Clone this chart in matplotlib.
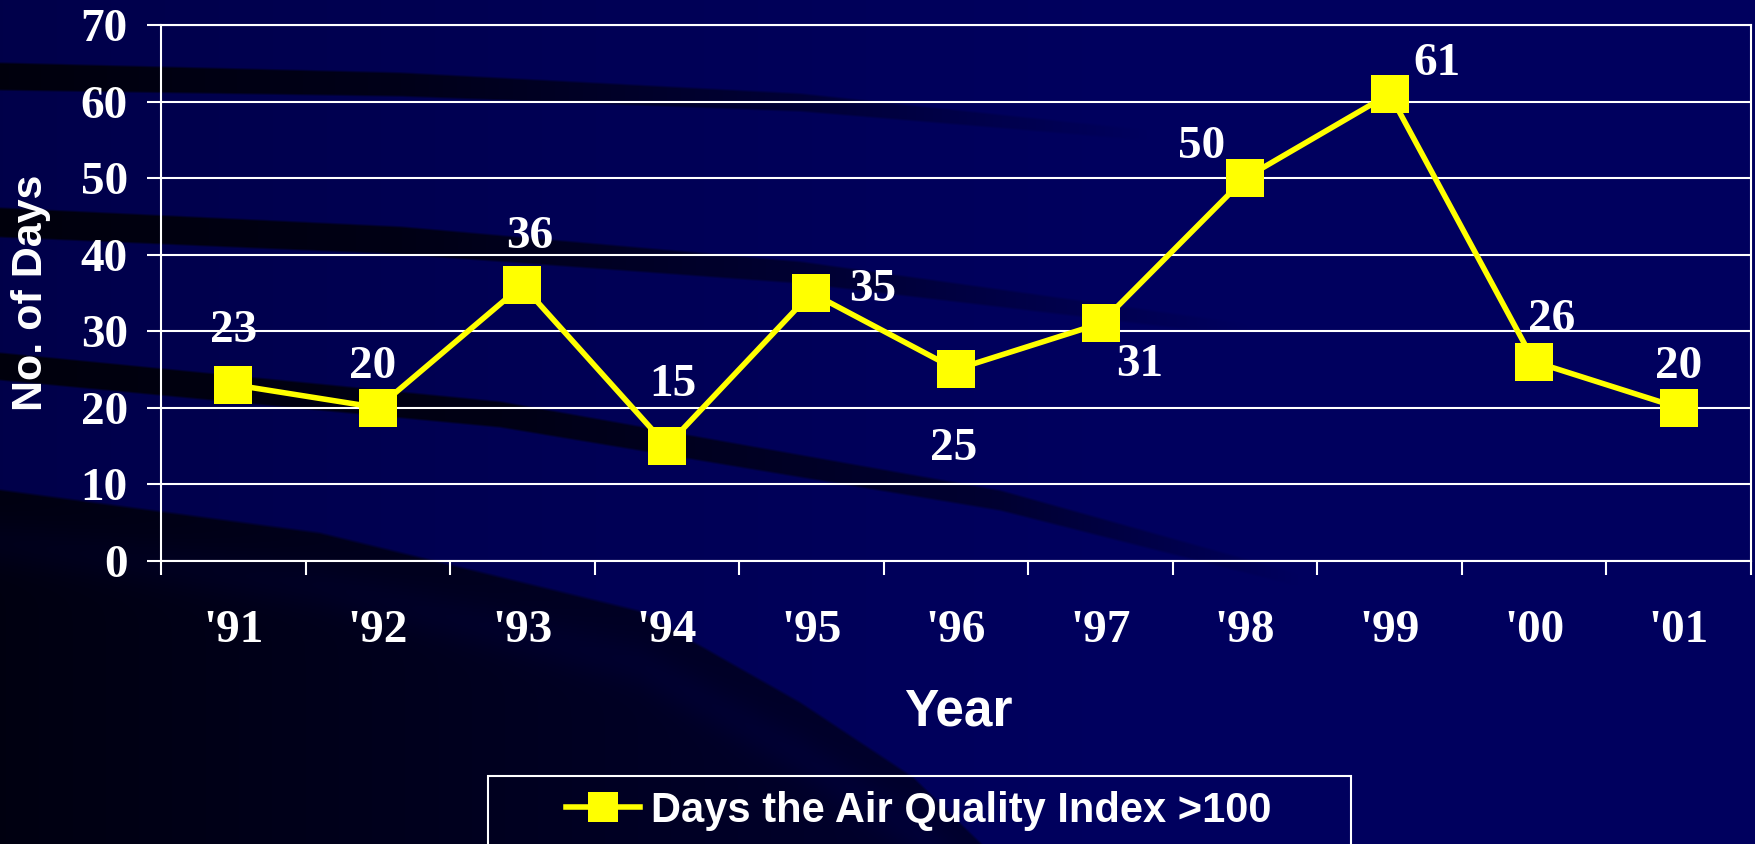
import numpy as np
import matplotlib
matplotlib.use('Agg')
import matplotlib.pyplot as plt
from matplotlib.patches import Rectangle

# data
years = ["'91", "'92", "'93", "'94", "'95", "'96", "'97", "'98", "'99", "'00", "'01"]
days = [23, 20, 36, 15, 35, 25, 31, 50, 61, 26, 20]
series_name = 'Days the Air Quality Index >100'
yticks = [0, 10, 20, 30, 40, 50, 60, 70]

# where each value label sits relative to its point (points, baseline)
label_offsets = [(0, 30.7), (-3.6, 21.3), (5, 27), (4.3, 36), (44, -5.8), (-1.4, -65.2),
                 (28, -37.8), (-31, 14.2), (34, 13.9), (12.6, 22), (0, 21.3)]

W, H, DPI = 1756, 844, 100
navy = np.array([0.0, 0.0, 0.37])
dark = np.array([0.0, 0.0, 0.05])
serif = 'Liberation Serif'
sans = 'Liberation Sans'

fig = plt.figure(figsize=(W / DPI, H / DPI), dpi=DPI, facecolor=navy)

# background swooshes (slide decoration)
xx, yy = np.meshgrid(np.arange(W), np.arange(H))
xs = np.arange(W)
d = np.zeros((H, W))
bands = [
    ([0, 400, 800, 1150], [76, 84, 102, 135], [14, 12, 9, 5], [1.0, 0.85, 0.5, 0.0]),
    ([0, 400, 800, 1250], [222, 240, 272, 330], [15, 14, 11, 6], [1.0, 0.9, 0.55, 0.0]),
    ([0, 500, 1000, 1300], [366, 414, 500, 580], [14, 13, 10, 6], [1.0, 0.9, 0.55, 0.0]),
]
for bx, by, bw, bs in bands:
    yc = np.interp(xs, bx, by)[None, :]
    hw = np.interp(xs, bx, bw)[None, :]
    st = np.interp(xs, bx, bs)[None, :]
    edge = np.clip((hw - np.abs(yy - yc)) / 3.0 + 0.5, 0, 1)
    d = np.maximum(d, st * edge)
top_edge = np.interp(xs, [0, 319, 638, 800, 913, 1000], [487, 530, 608, 700, 775, 860])[None, :]
inside = np.clip((yy - top_edge) / 4.0, 0, 1)
strength = 0.95 - 0.35 * np.clip(xx / 950.0, 0, 1)
sub = 0.12 * np.exp(-((yy - top_edge - 55) / 25.0) ** 2)
d = np.maximum(d, inside * (strength - sub))
d = np.maximum(d, 0.25 * np.clip(1 - xx / 1100.0, 0, 1))
img = navy[None, None, :] * (1 - d[..., None]) + dark[None, None, :] * d[..., None]

bg = fig.add_axes([0, 0, 1, 1], zorder=-5)
bg.imshow(img, extent=(0, W, H, 0), aspect='auto', interpolation='bilinear')
bg.set_xlim(0, W)
bg.set_ylim(H, 0)
bg.axis('off')

# plot area (pixel box converted to figure fractions)
ax = fig.add_axes([161 / W, (H - 560.7) / H, (1751 - 161) / W, (560.7 - 25) / H])
ax.set_facecolor('none')
x = np.arange(len(years))
line, = ax.plot(x, days, color='#FFFF00', lw=4, marker='s', markersize=28,
                markeredgewidth=0, label=series_name, zorder=5, clip_on=False)

for xi, v, (dx, dy) in zip(x, days, label_offsets):
    ax.annotate(str(v), (xi, v), xytext=(dx, dy), textcoords='offset points',
                ha='center', va='baseline', color='white', fontsize=34,
                fontweight='bold', family=serif, zorder=6)

ax.set_xlim(-0.5, len(years) - 0.5)
ax.set_ylim(0, 70)
ax.set_yticks(yticks)
ax.grid(axis='y', color='white', lw=1.5)
ax.set_axisbelow(True)
for s in ax.spines.values():
    s.set_color('white')
    s.set_linewidth(1.5)

ax.set_xticks(x)
ax.set_xticklabels(years)
ax.set_xticks(np.arange(len(years) + 1) - 0.5, minor=True)
ax.tick_params(axis='x', which='major', length=0, pad=35.5)
ax.tick_params(axis='x', which='minor', length=10, width=1.5, color='white', direction='out')
ax.tick_params(axis='y', length=10, width=1.5, color='white', direction='out', pad=14)
for lab in ax.get_xticklabels() + ax.get_yticklabels():
    lab.set_color('white')
    lab.set_fontsize(34)
    lab.set_fontweight('bold')
    lab.set_family(serif)

ax.set_ylabel('No. of Days', color='white', fontsize=31, fontweight='bold', family=sans, va='center')
ax.yaxis.set_label_coords((31 - 161) / 1590, 0.5)
ax.set_xlabel('Year', color='white', fontsize=37, fontweight='bold', family=sans, va='baseline')
ax.xaxis.set_label_coords((958 - 161) / 1590, (560.7 - 725) / 535.7)

# legend box runs off the bottom of the slide
fig.patches.append(Rectangle((488.5 / W, -0.1), (1351 - 488.5) / W, 0.1 + (H - 776) / H,
                             transform=fig.transFigure, facecolor='none',
                             edgecolor='white', lw=1.5, zorder=3))
leg = fig.legend(handles=[line], loc='center left', bbox_to_anchor=(566 / W, (H - 811) / H),
                 frameon=False, borderpad=0, borderaxespad=0, handlelength=1.78,
                 handletextpad=0.25, prop={'family': sans, 'weight': 'bold', 'size': 30})
for t in leg.get_texts():
    t.set_color('white')
leg.legend_handles[0].set_markersize(21)

fig.savefig('out.png', dpi=DPI, facecolor=fig.get_facecolor())
